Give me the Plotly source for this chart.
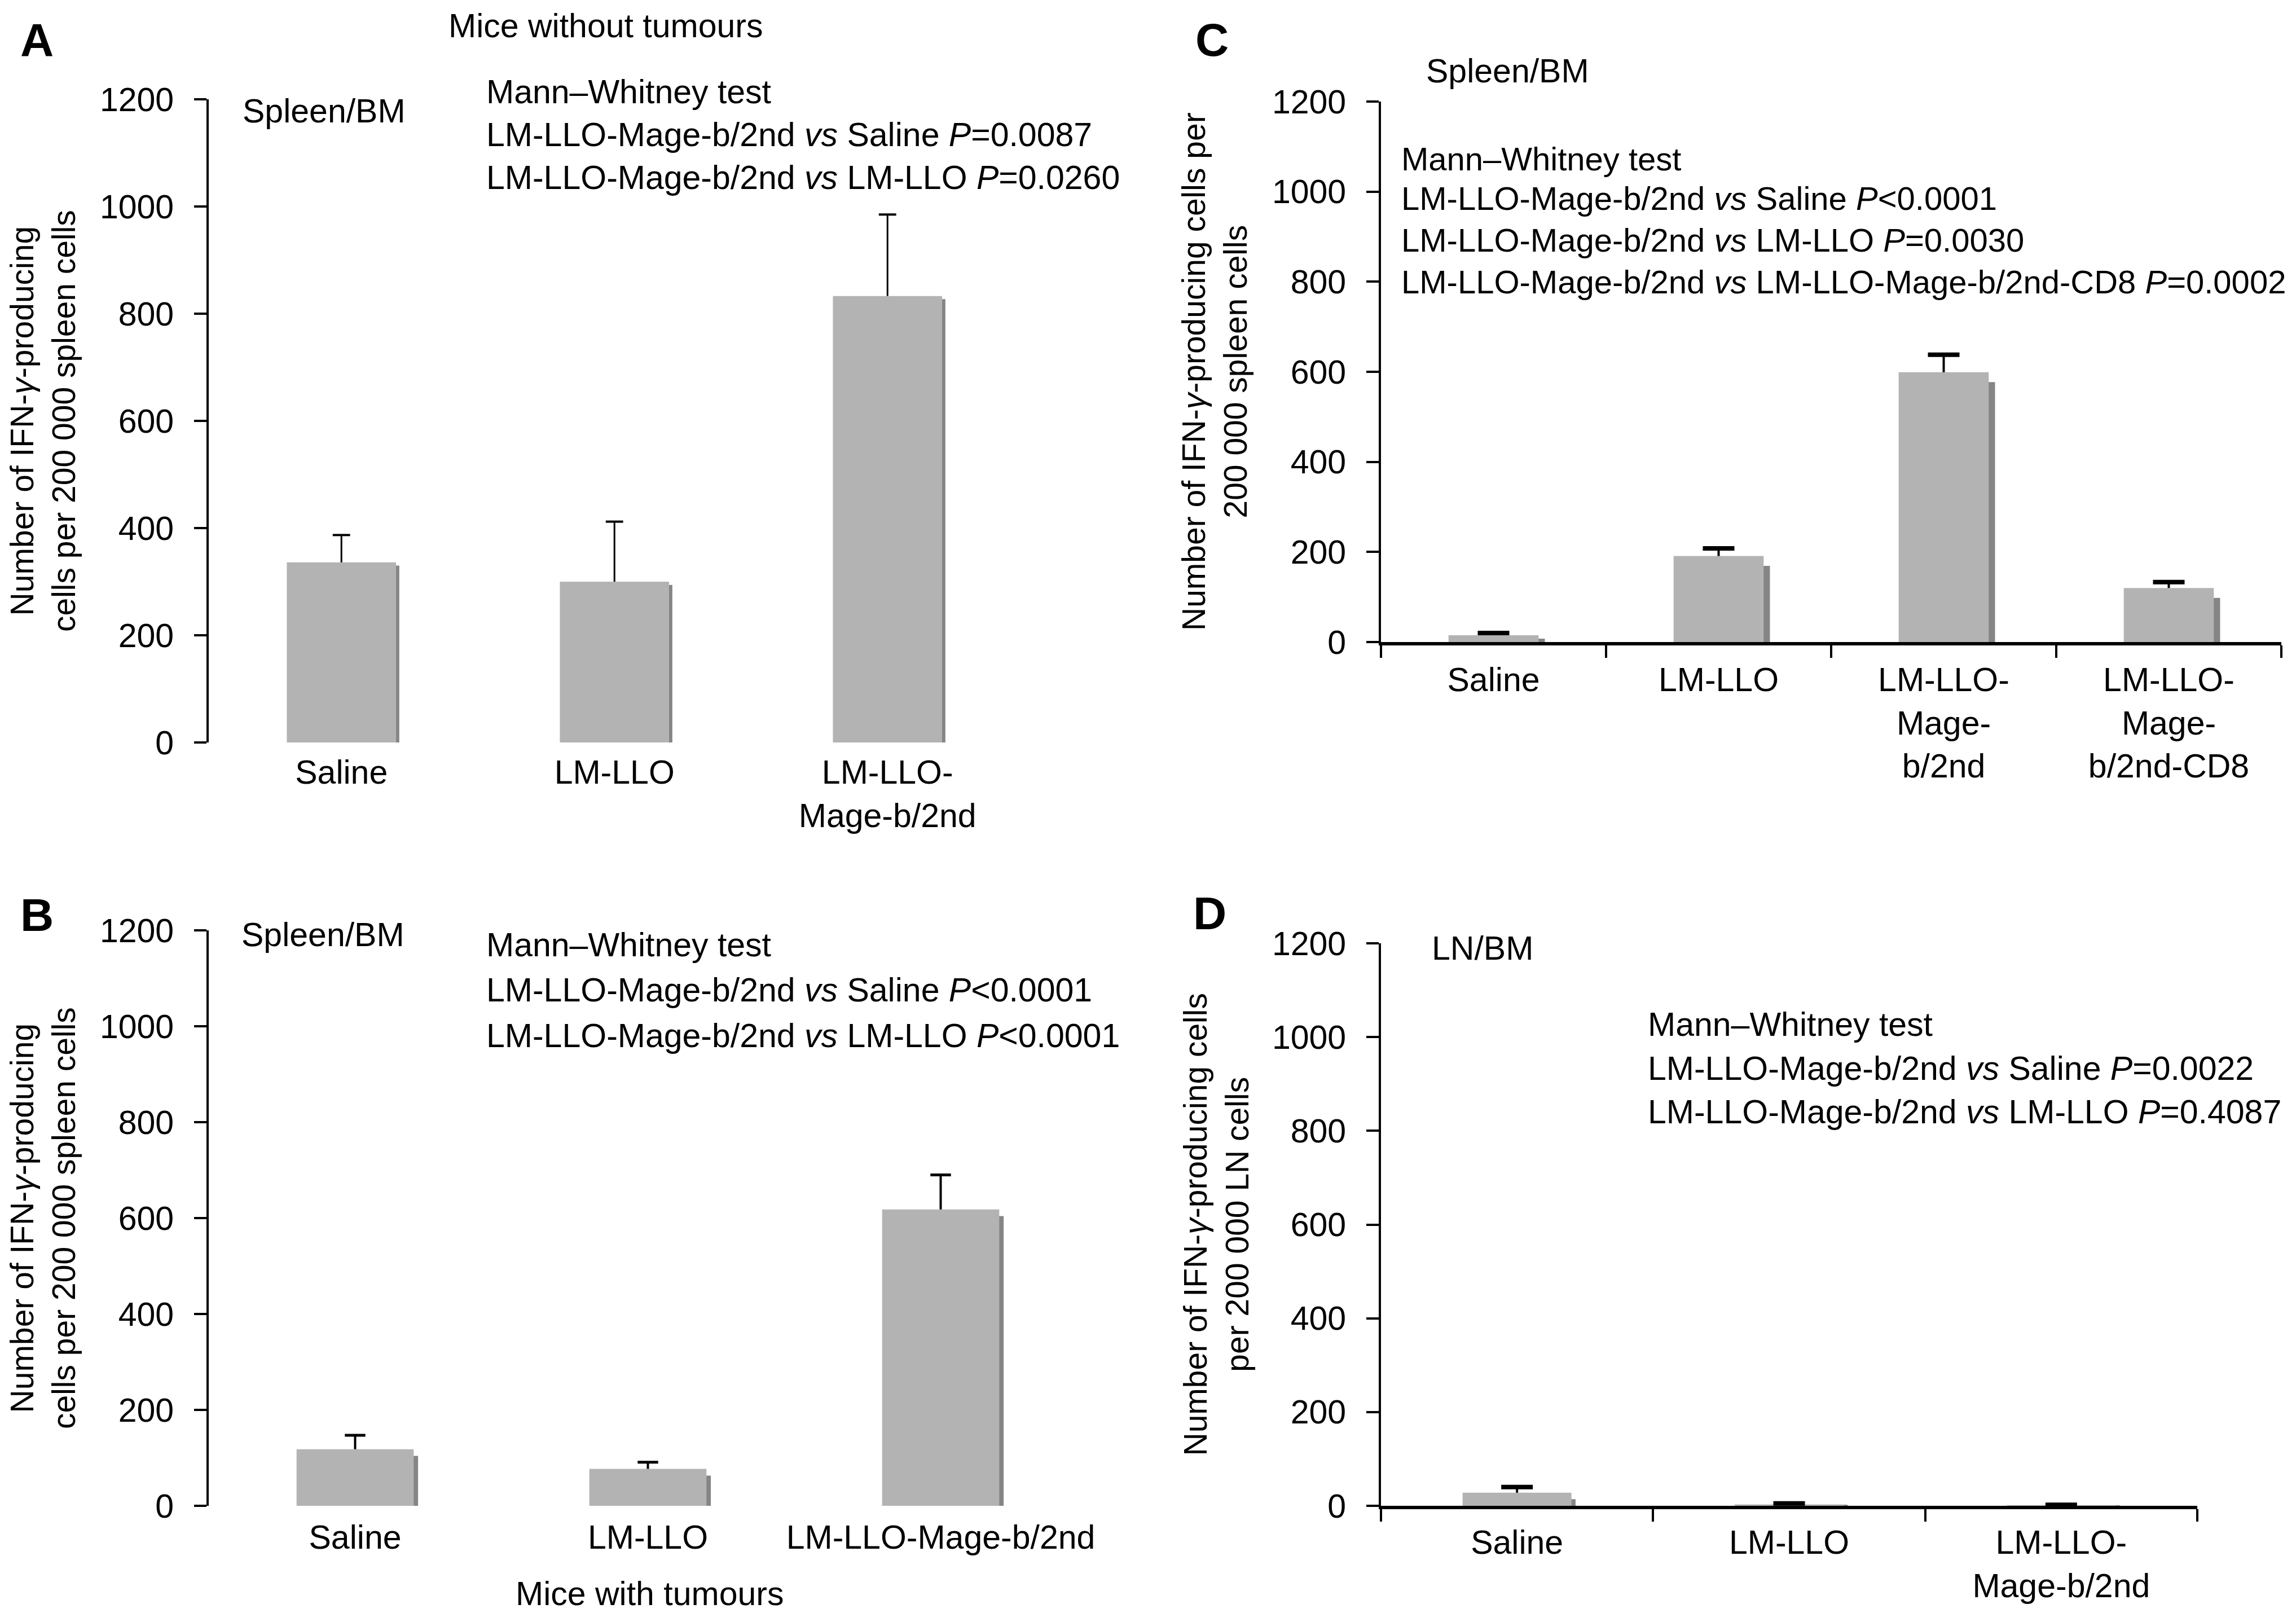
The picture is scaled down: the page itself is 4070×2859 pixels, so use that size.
import plotly.graph_objects as go

# ---- values ----
y_ticks = [0, 200, 400, 600, 800, 1000, 1200]

cat_a = ['Saline', 'LM-LLO', 'LM-LLO-<br>Mage-b/2nd']
val_a = [336, 300, 833]
err_a = [51, 112, 152]

cat_b = ['Saline', 'LM-LLO', 'LM-LLO-Mage-b/2nd']
val_b = [118, 77, 618]
err_b = [29, 14, 72]

cat_c = ['Saline', 'LM-LLO', 'LM-LLO-<br>Mage-<br>b/2nd', 'LM-LLO-<br>Mage-<br>b/2nd-CD8']
val_c = [15, 191, 599, 120]
err_c = [5, 17, 39, 13]

cat_d = ['Saline', 'LM-LLO', 'LM-LLO-<br>Mage-b/2nd']
val_d = [28, 3, 1]
err_d = [12, 2, 1]

# ---- texts ----
title_ab = 'Number of IFN-<i>γ</i>-producing<br>cells per 200 000 spleen cells'
title_c = 'Number of IFN-<i>γ</i>-producing cells per<br>200 000 spleen cells'
title_d = 'Number of IFN-<i>γ</i>-producing cells<br>per 200 000 LN cells'

stats_a = ['Mann–Whitney test',
           'LM-LLO-Mage-b/2nd <i>vs</i> Saline <i>P</i>=0.0087',
           'LM-LLO-Mage-b/2nd <i>vs</i> LM-LLO <i>P</i>=0.0260']
stats_b = ['Mann–Whitney test',
           'LM-LLO-Mage-b/2nd <i>vs</i> Saline <i>P</i><0.0001',
           'LM-LLO-Mage-b/2nd <i>vs</i> LM-LLO <i>P</i><0.0001']
stats_c = ['Mann–Whitney test',
           'LM-LLO-Mage-b/2nd <i>vs</i> Saline <i>P</i><0.0001',
           'LM-LLO-Mage-b/2nd <i>vs</i> LM-LLO <i>P</i>=0.0030',
           'LM-LLO-Mage-b/2nd <i>vs</i> LM-LLO-Mage-b/2nd-CD8 <i>P</i>=0.0002']
stats_d = ['Mann–Whitney test',
           'LM-LLO-Mage-b/2nd <i>vs</i> Saline <i>P</i>=0.0022',
           'LM-LLO-Mage-b/2nd <i>vs</i> LM-LLO <i>P</i>=0.4087']

W, H = 4070, 2859
FONT = 'Liberation Sans, Arial, sans-serif'
FS = 59
TFS = 57
BAR = '#b3b3b3'
SHADE = '#858585'


def fx(p):
    return p / W


def fy(p):
    return 1 - p / H


fig = go.Figure()
annotations = []

# panel geometry in pixels: left, right, y of 0, y of 1200
panels = [
    dict(n='', cats=cat_a, vals=val_a, errs=err_a, box=(362, 1814, 1308, 168), lo=-0.486,
         drop=6, shift=0.012, thick=3, capw=4, cap=22, xline=False, stand=13,
         title=title_ab, tx=68, letter='A', lx=57, ly=62,
         tag='Spleen/BM', tagx=420, tagy=189,
         stats=stats_a, sx=852, sy=[155, 231, 307], sfs=FS),
    dict(n='2', cats=cat_b, vals=val_b, errs=err_b, box=(362, 1919, 2661, 1641), lo=-0.5,
         drop=14, shift=0.015, thick=4, capw=5, cap=26, xline=False, stand=16,
         title=title_ab, tx=68, letter='B', lx=57, ly=1613,
         tag='Spleen/BM', tagx=418, tagy=1649,
         stats=stats_b, sx=852, sy=[1667, 1747, 1828], sfs=FS),
    dict(n='3', cats=cat_c, vals=val_c, errs=err_c, box=(2440, 4036, 1130, 172), lo=-0.5,
         drop=22, shift=0.028, thick=4, capw=8, cap=40, xline=True, stand=10,
         title=title_c, tx=2145, letter='C', lx=2140, ly=62,
         tag='Spleen/BM', tagx=2518, tagy=118,
         stats=stats_c, sx=2474, sy=[273, 343, 417, 492], sfs=58),
    dict(n='4', cats=cat_d, vals=val_d, errs=err_d, box=(2440, 3887, 2661, 1664), lo=-0.5,
         drop=22, shift=0.015, thick=4, capw=8, cap=40, xline=True, stand=8,
         title=title_d, tx=2147, letter='D', lx=2136, ly=1610,
         tag='LN/BM', tagx=2528, tagy=1673,
         stats=stats_d, sx=2911, sy=[1808, 1886, 1963], sfs=FS),
]

for p in panels:
    xa, ya = 'x' + p['n'], 'y' + p['n']
    cats, vals, errs = p['cats'], p['vals'], p['errs']
    shade = [max(v - p['drop'], 0.5 * v) for v in vals]
    tops = [v + e for v, e in zip(vals, errs)]

    fig.add_trace(go.Bar(x=cats, y=shade, xaxis=xa, yaxis=ya, width=0.4,
                         offset=-0.2 + p['shift'], marker=dict(color=SHADE, line_width=0),
                         showlegend=False, hoverinfo='skip'))
    fig.add_trace(go.Bar(x=cats, y=vals, xaxis=xa, yaxis=ya, width=0.4, offset=-0.2,
                         marker=dict(color=BAR, line_width=0), showlegend=False,
                         error_y=dict(type='data', symmetric=False, array=errs,
                                      arrayminus=[0] * len(errs), color='black',
                                      thickness=p['thick'], width=0)))
    fig.add_trace(go.Scatter(x=cats, y=tops, xaxis=xa, yaxis=ya, mode='markers',
                             marker=dict(symbol='line-ew', size=p['cap'],
                                         line=dict(color='black', width=p['capw'])),
                             showlegend=False, hoverinfo='skip'))

    left, right, ybot, ytop = p['box']
    xkey = 'xaxis' + p['n']
    ykey = 'yaxis' + p['n']
    xaxis = dict(domain=[fx(left), fx(right)], anchor=ya, type='category',
                 range=[p['lo'], p['lo'] + len(cats)], showgrid=False, zeroline=False,
                 automargin=False, ticklabelstandoff=p['stand'],
                 tickfont=dict(family=FONT, size=FS, color='black'), fixedrange=True)
    if p['xline']:
        xaxis.update(showline=True, linewidth=6, linecolor='black', ticks='outside',
                     tickson='boundaries', ticklen=22, tickwidth=4, tickcolor='black')
    else:
        xaxis.update(showline=False, ticks='')
    yaxis = dict(domain=[fy(ybot), fy(ytop)], anchor=xa, range=[0, 1200],
                 tickvals=y_ticks, showgrid=False, zeroline=False, showline=True,
                 linewidth=4, linecolor='black', ticks='outside', ticklen=22,
                 tickwidth=4, tickcolor='black', ticklabelstandoff=24, automargin=False,
                 tickfont=dict(family=FONT, size=FS, color='black'), fixedrange=True)
    fig.update_layout({xkey: xaxis, ykey: yaxis})

    annotations.append(dict(text=p['title'], x=fx(p['tx']), y=fy((ybot + ytop) / 2),
                            textangle=-90, xanchor='center', yanchor='middle',
                            font=dict(family=FONT, size=TFS, color='black')))
    annotations.append(dict(text='<b>' + p['letter'] + '</b>', x=fx(p['lx']), y=fy(p['ly']),
                            xanchor='center', yanchor='middle',
                            font=dict(family=FONT, size=82, color='black')))
    annotations.append(dict(text=p['tag'], x=fx(p['tagx']), y=fy(p['tagy']),
                            xanchor='left', yanchor='middle',
                            font=dict(family=FONT, size=FS, color='black')))
    for line, yy in zip(p['stats'], p['sy']):
        annotations.append(dict(text=line, x=fx(p['sx']), y=fy(yy),
                                xanchor='left', yanchor='middle',
                                font=dict(family=FONT, size=p['sfs'], color='black')))

annotations.append(dict(text='Mice without tumours', x=fx(1065), y=fy(38),
                        xanchor='center', yanchor='middle',
                        font=dict(family=FONT, size=FS, color='black')))
annotations.append(dict(text='Mice with tumours', x=fx(1143), y=fy(2817),
                        xanchor='center', yanchor='middle',
                        font=dict(family=FONT, size=FS, color='black')))
for a in annotations:
    a.update(xref='paper', yref='paper', showarrow=False)

fig.update_layout(width=W, height=H, autosize=False, barmode='overlay',
                  margin=dict(l=0, r=0, t=0, b=0, pad=0, autoexpand=False),
                  paper_bgcolor='white', plot_bgcolor='white', annotations=annotations,
                  font=dict(family=FONT, size=FS, color='black'))

fig.write_html('out.html')
